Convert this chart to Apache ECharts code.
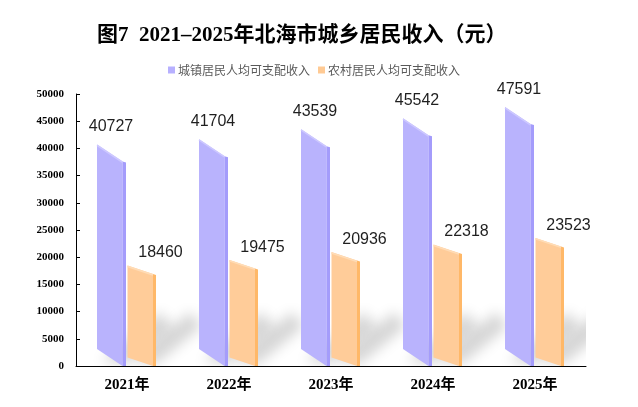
<!DOCTYPE html>
<html>
<head>
<meta charset="utf-8">
<script src="https://cdn.jsdelivr.net/npm/echarts@6/dist/echarts.min.js"></script>
<style>
  html, body { margin: 0; padding: 0; background: #fff; }
  #chart { width: 638px; height: 407px; }
</style>
</head>
<body>
<div id="chart"></div>
<script>
// data
const years = ['2021年', '2022年', '2023年', '2024年', '2025年'];
const urban = [40727, 41704, 43539, 45542, 47591];
const rural = [18460, 19475, 20936, 22318, 23523];
const yTicks = { min: 0, max: 50000, interval: 5000 };

// look of the slanted "3d" bars, in pixels
const shapes = {
  urban: { dx: -30, w: 25.5, side: 3.5, skew: 17, face: '#b9b3fd', sideFill: '#a49cfb', top: '#cdc8ff', lx: 14, ly: 18 },
  rural: { dx: 0.5, w: 25.5, side: 3, skew: 8.5, face: '#ffcc99', sideFill: '#ffb868', top: '#ffdcb6', lx: 33, ly: 12.5 }
};
const OFF = 2000; // shadow shape drawn off canvas, only its blur is shown

function barRender(g) {
  return function (params, api) {
    const i = api.value(0);
    const v = api.value(1);
    const top = api.coord([i, v]);
    const base = api.coord([i, 0]);
    const xl = top[0] + g.dx;
    const xr = xl + g.w;
    const xs = xr + g.side;
    const yt = top[1];
    const y0 = base[1];
    return {
      type: 'group',
      children: [
        { type: 'polygon', shape: { points: [[xl, yt], [xr, yt + g.skew], [xr, y0], [xl, y0 - g.skew]] },
          style: { fill: g.face } },
        { type: 'polygon', shape: { points: [[xr, yt + g.skew], [xs, yt + g.skew + 1], [xs, y0], [xr, y0]] },
          style: { fill: g.sideFill } },
        { type: 'polyline', shape: { points: [[xl, yt + 0.8], [xr, yt + g.skew + 0.8]] },
          style: { stroke: g.top, lineWidth: 1.6, fill: null } },
        { type: 'text', x: xl + g.lx, y: yt - g.ly,
          style: { text: String(v), fill: '#1f1f1f', font: '16px "Liberation Sans", sans-serif',
                   align: 'center', verticalAlign: 'middle' } }
      ]
    };
  };
}

function shadowRender(g) {
  return function (params, api) {
    const i = api.value(0);
    const base = api.coord([i, 0]);
    const xl = base[0] + g.dx - OFF;
    const xs = xl + g.w + g.side;
    const y0 = base[1];
    return {
      type: 'polygon',
      silent: true,
      shape: { points: [[xl + 4, y0 - 4], [xs, y0 - 2], [xs + 46, y0 - 40], [xs + 34, y0 - 54]] },
      style: { fill: '#000', shadowBlur: 13, shadowColor: 'rgba(0,0,0,0.17)', shadowOffsetX: OFF }
    };
  };
}

const urbanData = urban.map((v, i) => [i, v]);
const ruralData = rural.map((v, i) => [i, v]);

const chart = echarts.init(document.getElementById('chart'));
chart.setOption({
  animation: false,
  backgroundColor: '#ffffff',
  title: {
    text: '图7  2021–2025年北海市城乡居民收入（元）',
    left: 92, top: 20,
    textStyle: { fontSize: 21, fontWeight: 'bold', color: '#000',
                 fontFamily: '"Liberation Serif", "Noto Sans CJK SC", serif' }
  },
  legend: {
    left: 163, top: 59,
    itemWidth: 7, itemHeight: 7, itemGap: 8,
    icon: 'rect',
    textStyle: { fontSize: 12, color: '#595959', fontFamily: '"Noto Sans CJK SC", sans-serif', padding: [0, 0, 0, -2] },
    data: [
      { name: '城镇居民人均可支配收入', itemStyle: { color: '#b7b0ff' } },
      { name: '农村居民人均可支配收入', itemStyle: { color: '#ffca94' } }
    ]
  },
  grid: { left: 76, right: 52, top: 94, bottom: 41 },
  xAxis: {
    type: 'category',
    data: years,
    axisLine: { lineStyle: { color: '#000', width: 1 } },
    axisTick: { inside: true, length: 6, lineStyle: { color: '#000' } },
    axisLabel: { margin: 12, fontSize: 15, fontWeight: 'bold', color: '#000',
                 fontFamily: '"Liberation Serif", "Noto Sans CJK SC", serif' }
  },
  yAxis: {
    type: 'value',
    min: yTicks.min, max: yTicks.max, interval: yTicks.interval,
    axisLine: { show: true, lineStyle: { color: '#000', width: 1 } },
    axisTick: { show: true, inside: true, length: 4, lineStyle: { color: '#000' } },
    splitLine: { show: false },
    axisLabel: { margin: 12, fontSize: 11, fontWeight: 'bold', color: '#000',
                 fontFamily: '"Liberation Serif", serif', formatter: (v) => String(v) }
  },
  series: [
    { type: 'custom', name: 'shadowU', z: 1, silent: true, clip: true, renderItem: shadowRender(shapes.urban), data: urbanData },
    { type: 'custom', name: 'shadowR', z: 1, silent: true, clip: true, renderItem: shadowRender(shapes.rural), data: ruralData },
    { type: 'custom', name: '城镇居民人均可支配收入', z: 3, renderItem: barRender(shapes.urban), data: urbanData,
      itemStyle: { color: '#b7b0ff' }, encode: { x: 0, y: 1 } },
    { type: 'custom', name: '农村居民人均可支配收入', z: 3, renderItem: barRender(shapes.rural), data: ruralData,
      itemStyle: { color: '#ffca94' }, encode: { x: 0, y: 1 } }
  ]
});
</script>
</body>
</html>
